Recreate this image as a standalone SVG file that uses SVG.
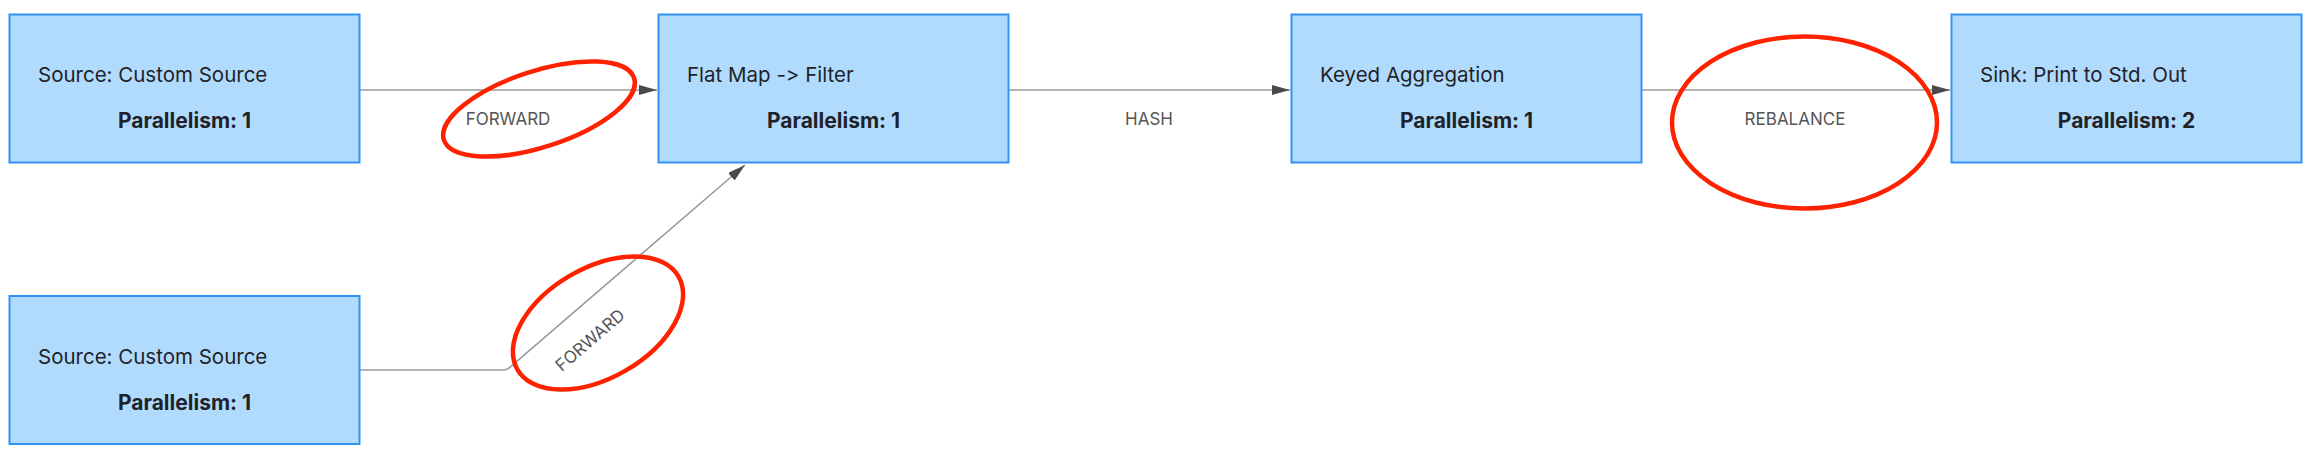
<svg xmlns="http://www.w3.org/2000/svg" width="2314" height="460" viewBox="0 0 2314 460">
<style>
text{font-feature-settings:"calt" 0,"liga" 0;font-variant-ligatures:none}
.node rect{fill:#b1dbfd;stroke:#3393f5;stroke-width:2}
.title{font-family:Inter,"Liberation Sans",sans-serif;font-size:20.5px;fill:#1f2329}
.par{font-family:Inter,"Liberation Sans",sans-serif;font-size:21px;font-weight:700;fill:#1f2329;text-anchor:middle}
.edge{fill:none;stroke:#9a9a9a;stroke-width:1.6}
.elabel{font-family:Inter,"Liberation Sans",sans-serif;font-size:17px;fill:#555;text-anchor:middle}
.mark{fill:none;stroke:#ff2200;stroke-width:4.5}
</style>
<defs>
<marker id="arrow" markerUnits="userSpaceOnUse" markerWidth="18" markerHeight="12" refX="18" refY="5" orient="auto">
<path d="M0,0 L18,5 L0,10 z" fill="#4a4a4a"/>
</marker>
</defs>
<rect width="2314" height="460" fill="#ffffff"/>
<g id="connectors">
<path class="edge" d="M360,90 H657" marker-end="url(#arrow)"/>
<text class="elabel" x="508" y="125">FORWARD</text>
<path class="edge" d="M360,370 H503 Q506.7,370 509.5,367.6 L745,165" marker-end="url(#arrow)"/>
<text class="elabel" transform="translate(590,340) rotate(-40.7)" x="0" y="6">FORWARD</text>
<path class="edge" d="M1009,90 H1290" marker-end="url(#arrow)"/>
<text class="elabel" x="1149" y="125">HASH</text>
<path class="edge" d="M1642,90 H1950" marker-end="url(#arrow)"/>
<text class="elabel" x="1795" y="125">REBALANCE</text>
</g>
<g id="source1" class="node">
<rect x="9.5" y="14.5" width="350" height="148"/>
<text class="title" x="38" y="82">Source: Custom Source</text>
<text class="par" x="184.5" y="128">Parallelism: 1</text>
</g>
<g id="source2" class="node">
<rect x="9.5" y="296" width="350" height="148"/>
<text class="title" x="38" y="363.5">Source: Custom Source</text>
<text class="par" x="184.5" y="410">Parallelism: 1</text>
</g>
<g id="flatmap" class="node">
<rect x="658.5" y="14.5" width="350" height="148"/>
<text class="title" x="687" y="82">Flat Map -&gt; Filter</text>
<text class="par" x="833.5" y="128">Parallelism: 1</text>
</g>
<g id="keyed" class="node">
<rect x="1291.5" y="14.5" width="350" height="148"/>
<text class="title" x="1320" y="82">Keyed Aggregation</text>
<text class="par" x="1466.5" y="128">Parallelism: 1</text>
</g>
<g id="sink" class="node">
<rect x="1951.5" y="14.5" width="350" height="148"/>
<text class="title" x="1980" y="82">Sink: Print to Std. Out</text>
<text class="par" x="2126.5" y="128">Parallelism: 2</text>
</g>
<g id="annotations">
<ellipse class="mark" cx="539" cy="109" rx="100" ry="38" transform="rotate(-18 539 109)"/>
<ellipse class="mark" cx="598" cy="323" rx="93" ry="55" transform="rotate(-30 598 323)"/>
<ellipse class="mark" cx="1804.5" cy="122.5" rx="132.5" ry="86"/>
</g>
</svg>
